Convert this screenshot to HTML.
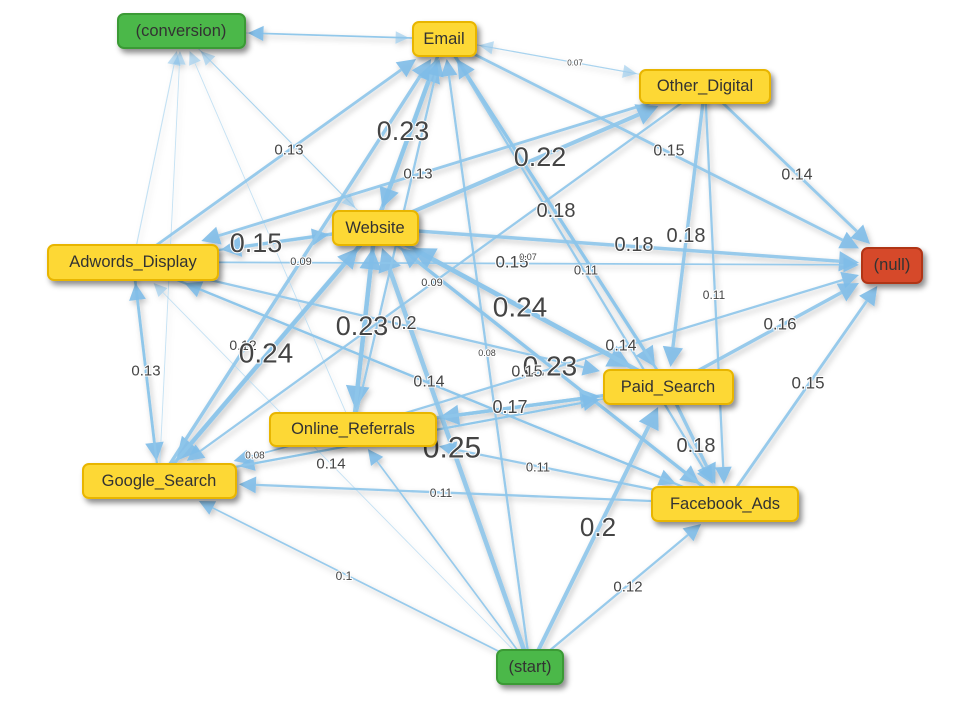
<!DOCTYPE html>
<html><head><meta charset="utf-8">
<style>
html,body{margin:0;padding:0;background:#fff;}
svg{display:block;font-family:"Liberation Sans",Arial,sans-serif;}
.n rect{stroke-width:2;}
.n text{font-size:16.5px;text-anchor:middle;dominant-baseline:central;fill:#333;}
.l{fill:#444;text-anchor:middle;dominant-baseline:central;paint-order:stroke;stroke:#fff;stroke-width:2px;}
</style></head>
<body>
<svg id="s" width="974" height="704" viewBox="0 0 974 704">
<defs>
<filter id="sh" x="-20%" y="-30%" width="150%" height="180%"><feDropShadow dx="3" dy="4" stdDeviation="3" flood-color="#000" flood-opacity="0.45"/></filter>
<filter id="esh" x="-10%" y="-10%" width="120%" height="120%"><feDropShadow dx="2" dy="3" stdDeviation="3" flood-color="#000" flood-opacity="0.25"/></filter>
</defs>
<g id="edges" filter="url(#esh)"></g>
<g id="labels">
<text class="l" x="289" y="150" font-size="15">0.13</text>
<text class="l" x="418" y="174" font-size="15">0.13</text>
<text class="l" x="403" y="131" font-size="27">0.23</text>
<text class="l" x="540" y="157" font-size="27">0.22</text>
<text class="l" x="575" y="63" font-size="8">0.07</text>
<text class="l" x="669" y="151" font-size="16">0.15</text>
<text class="l" x="797" y="175" font-size="16">0.14</text>
<text class="l" x="556" y="211" font-size="20">0.18</text>
<text class="l" x="634" y="245" font-size="20">0.18</text>
<text class="l" x="686" y="236" font-size="20">0.18</text>
<text class="l" x="256" y="243" font-size="27">0.15</text>
<text class="l" x="301" y="262" font-size="11">0.09</text>
<text class="l" x="512" y="262" font-size="17">0.15</text>
<text class="l" x="528" y="257" font-size="9">0.07</text>
<text class="l" x="586" y="270" font-size="13">0.11</text>
<text class="l" x="432" y="283" font-size="11">0.09</text>
<text class="l" x="714" y="295" font-size="12">0.11</text>
<text class="l" x="520" y="307" font-size="28">0.24</text>
<text class="l" x="780" y="324" font-size="17">0.16</text>
<text class="l" x="362" y="326" font-size="27">0.23</text>
<text class="l" x="404" y="323" font-size="18">0.2</text>
<text class="l" x="243" y="345" font-size="14">0.12</text>
<text class="l" x="266" y="353" font-size="28">0.24</text>
<text class="l" x="146" y="371" font-size="15">0.13</text>
<text class="l" x="621" y="346" font-size="16">0.14</text>
<text class="l" x="487" y="353" font-size="9">0.08</text>
<text class="l" x="550" y="366" font-size="28">0.23</text>
<text class="l" x="527" y="372" font-size="16">0.15</text>
<text class="l" x="429" y="382" font-size="16">0.14</text>
<text class="l" x="808" y="383" font-size="17">0.15</text>
<text class="l" x="510" y="407" font-size="18">0.17</text>
<text class="l" x="452" y="448" font-size="30">0.25</text>
<text class="l" x="696" y="446" font-size="20">0.18</text>
<text class="l" x="255" y="456" font-size="10">0.08</text>
<text class="l" x="331" y="464" font-size="15">0.14</text>
<text class="l" x="538" y="467" font-size="13">0.11</text>
<text class="l" x="441" y="493" font-size="12">0.11</text>
<text class="l" x="598" y="527" font-size="26">0.2</text>
<text class="l" x="344" y="576" font-size="12">0.1</text>
<text class="l" x="628" y="587" font-size="15">0.12</text>
</g>
<g id="nodes" filter="url(#sh)">
<g class="n"><rect x="118" y="14" width="127" height="34" rx="6" fill="#4cb848" stroke="#3a9a36"/><text x="181" y="31">(conversion)</text></g>
<g class="n"><rect x="413" y="22" width="63" height="34" rx="6" fill="#fdd835" stroke="#e8b500"/><text x="444" y="39">Email</text></g>
<g class="n"><rect x="640" y="70" width="130" height="33" rx="6" fill="#fdd835" stroke="#e8b500"/><text x="705" y="86">Other_Digital</text></g>
<g class="n"><rect x="333" y="211" width="85" height="34" rx="6" fill="#fdd835" stroke="#e8b500"/><text x="375" y="228">Website</text></g>
<g class="n"><rect x="48" y="245" width="170" height="35" rx="6" fill="#fdd835" stroke="#e8b500"/><text x="133" y="262">Adwords_Display</text></g>
<g class="n"><rect x="862" y="248" width="60" height="35" rx="6" fill="#d64a2a" stroke="#b03418"/><text x="892" y="265">(null)</text></g>
<g class="n"><rect x="604" y="370" width="129" height="34" rx="6" fill="#fdd835" stroke="#e8b500"/><text x="668" y="387">Paid_Search</text></g>
<g class="n"><rect x="270" y="413" width="166" height="33" rx="6" fill="#fdd835" stroke="#e8b500"/><text x="353" y="429">Online_Referrals</text></g>
<g class="n"><rect x="83" y="464" width="153" height="34" rx="6" fill="#fdd835" stroke="#e8b500"/><text x="159" y="481">Google_Search</text></g>
<g class="n"><rect x="652" y="487" width="146" height="34" rx="6" fill="#fdd835" stroke="#e8b500"/><text x="725" y="504">Facebook_Ads</text></g>
<g class="n"><rect x="497" y="650" width="66" height="34" rx="6" fill="#4cb848" stroke="#3a9a36"/><text x="530" y="667">(start)</text></g>
</g>
</svg>
<script>
var N={C:[181,31,64,17],E:[444,39,32,17],O:[705,86,65,17],W:[375,228,43,17],A:[133,262,85,18],X:[892,265,30,18],P:[668,387,65,17],R:[353,429,83,17],G:[159,481,77,17],F:[725,504,73,17],S:[530,667,33,17]};
var E=[["S","G",1.5],["S","R",1.5],["S","W",4],["S","E",2],["S","P",3.5],["S","F",2],["S","A",0.8],
["W","E",4],["E","W",3],["W","C",1],["W","X",3],["W","A",3],["A","W",2],["W","R",4],["W","G",4],["W","P",4],["W","F",2.5],["W","O",3.5],
["A","E",2.5],["A","C",1],["A","X",1.5],["A","G",2.5],["G","A",2],["A","P",2],["A","F",2],
["E","O",1],["O","E",1],["E","X",2.5],["E","P",3],["E","F",2],["E","C",0.8],
["O","X",2.5],["O","P",3],["O","F",2],["O","G",2],["O","A",2.5],
["P","X",3],["P","R",3],["R","P",3],["P","F",3],["P","E",2.5],["P","W",4],["P","G",1.5],
["F","X",2.5],["F","G",2],["F","W",3],["F","R",2],["F","A",2],
["R","G",1.5],["R","W",3.5],["R","E",2],["R","C",0.8],["R","X",2],
["G","W",3],["G","E",3],["G","C",0.8],["G","P",2],["C","E",0.8],["E","C",1.5],["C","W",0.8]];
var g=document.getElementById("edges"),h="";
function clip(x,y,dx,dy,n){var hw=n[2]+3,hh=n[3]+3;var t=Math.min(hw/Math.abs(dx||1e-9),hh/Math.abs(dy||1e-9));return [x-dx*t,y-dy*t];}
E.forEach(function(e){var a=N[e[0]],b=N[e[1]],w=e[2]*1.15;var dx=b[0]-a[0],dy=b[1]-a[1],L=Math.hypot(dx,dy),ux=dx/L,uy=dy/L;
var p=clip(b[0],b[1],ux,uy,b);var ah=11+w*2.6,aw=5+w*1.5;var bx=p[0]-ux*ah,by=p[1]-uy*ah;
var op=w<1.2?0.5:0.9;
h+='<line x1="'+a[0]+'" y1="'+a[1]+'" x2="'+bx.toFixed(1)+'" y2="'+by.toFixed(1)+'" stroke="#8ec6ea" stroke-width="'+w+'" opacity="'+op+'"/>';
h+='<polygon points="'+p[0].toFixed(1)+','+p[1].toFixed(1)+' '+(bx-uy*aw).toFixed(1)+','+(by+ux*aw).toFixed(1)+' '+(bx+uy*aw).toFixed(1)+','+(by-ux*aw).toFixed(1)+'" fill="#80bde8" opacity="'+op+'"/>';});
g.innerHTML=h;
</script>
</body></html>
